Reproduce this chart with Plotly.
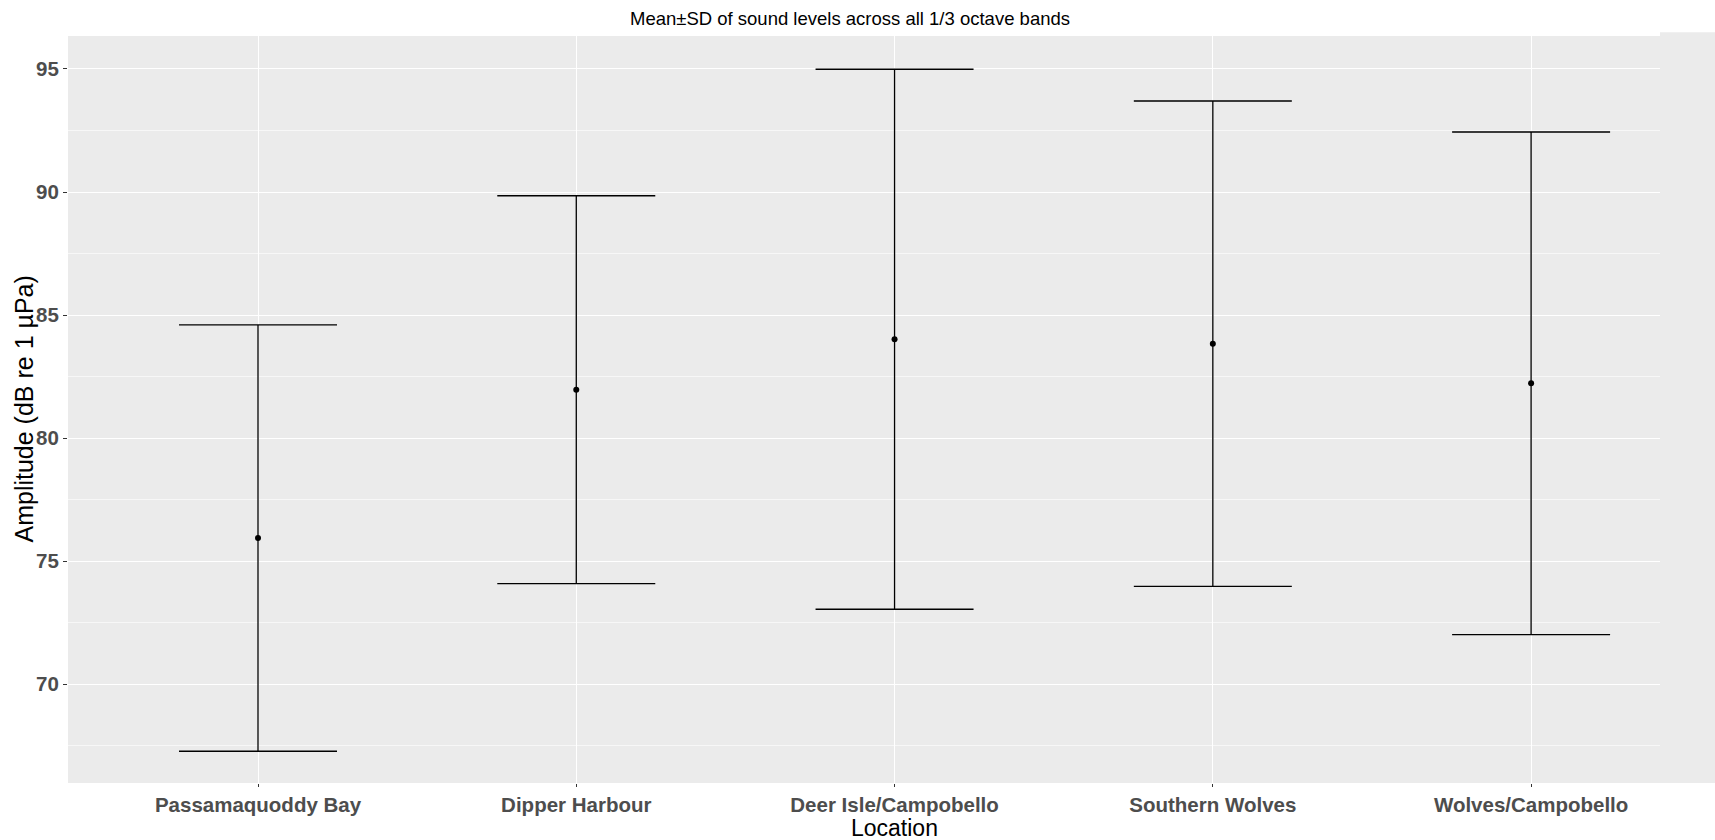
import plotly.graph_objects as go

locations = ["Passamaquoddy Bay", "Dipper Harbour", "Deer Isle/Campobello",
             "Southern Wolves", "Wolves/Campobello"]
mean_db = [75.94, 81.97, 84.02, 83.84, 82.23]
sd_db = [8.66, 7.88, 10.97, 9.86, 10.21]

W, H = 1715, 840
L, R, T, B = 68, 55, 36, 57

fig = go.Figure()
fig.add_trace(go.Scatter(
    x=locations, y=mean_db, mode="markers",
    marker=dict(color="black", size=6),
    error_y=dict(type="data", array=sd_db, visible=True,
                 color="black", thickness=1.3, width=79),
    showlegend=False,
))

plot_w = W - L - R
plot_h = H - T - B
fig.add_shape(type="rect", xref="paper", yref="paper",
              x0=1, x1=1 + (R + 2) / plot_w, y0=0, y1=1.005,
              fillcolor="#EBEBEB", line=dict(width=0), layer="below")

tick_font = dict(size=20.5, color="#4D4D4D",
                 family="Liberation Sans, Arial, sans-serif", weight="bold")

fig.update_layout(
    width=W, height=H,
    margin=dict(l=L, r=R, t=T, b=B, autoexpand=False),
    paper_bgcolor="white", plot_bgcolor="#EBEBEB",
    font=dict(family="Liberation Sans, Arial, sans-serif"),
    title=dict(text="Mean±SD of sound levels across all 1/3 octave bands",
               x=850 / W, xanchor="center", y=1 - 19 / H, yanchor="middle",
               font=dict(size=18.5, color="black")),
    xaxis=dict(
        type="category", range=[-0.597, 4.405],
        showgrid=True, gridcolor="white", gridwidth=1.2,
        ticks="outside", ticklen=3, tickcolor="#333333",
        tickfont=tick_font,
        showline=False, zeroline=False,
    ),
    yaxis=dict(
        range=[65.99, 96.34], tick0=70, dtick=5,
        showgrid=True, gridcolor="white", gridwidth=1.2,
        minor=dict(dtick=2.5, tick0=70, showgrid=True, gridcolor="#F7F7F7", gridwidth=0.7),
        ticks="outside", ticklen=4, tickcolor="#333333",
        tickfont=tick_font,
        showline=False, zeroline=False,
    ),
    annotations=[
        dict(text="Location", xref="paper", yref="paper",
             x=(894 - L) / plot_w, y=-(828 - (H - B)) / plot_h,
             xanchor="center", yanchor="middle", showarrow=False,
             font=dict(size=23, color="black")),
        dict(text="Amplitude (dB re 1 µPa)", xref="paper", yref="paper",
             x=-(L - 23) / plot_w, y=0.5, textangle=-90,
             xanchor="center", yanchor="middle", showarrow=False,
             font=dict(size=25, color="black")),
    ],
)

fig.write_html("out.html")
